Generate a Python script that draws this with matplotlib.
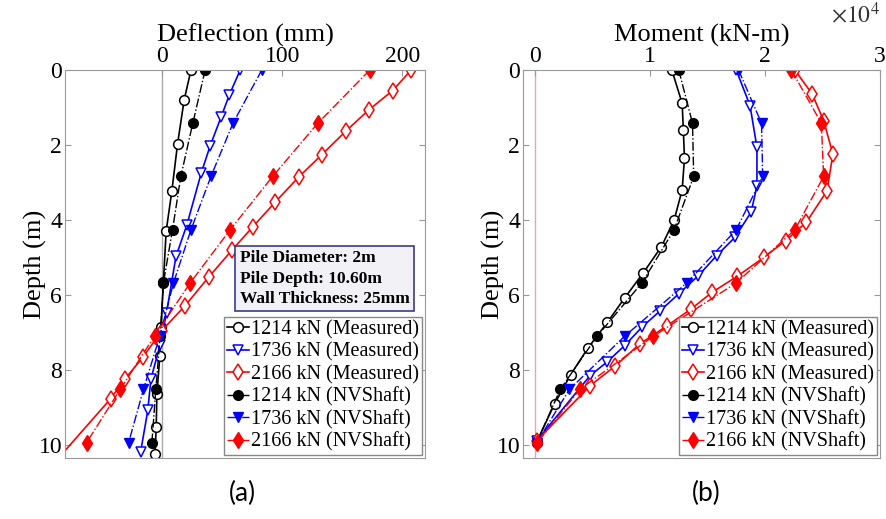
import numpy as np
import matplotlib
matplotlib.use("Agg")
import matplotlib.pyplot as plt

plt.rcParams['font.family'] = ['Liberation Serif', 'DejaVu Serif']
plt.rcParams['mathtext.fontset'] = 'stix'

# ---- data (a) deflection, mm ----
a_m1214_z = [0, 0.8, 1.97, 3.24, 4.3, 5.66, 6.85, 7.64, 8.64, 9.53, 10.24]
a_m1214_x = [24, 18.3, 12.8, 8, 3.3, 1, -1, -2, -4.4, -5, -6]
a_m1736_z = [0, 0.66, 1.26, 2.02, 2.75, 4.13, 4.97, 6.48, 7.33, 8.24, 9.08, 10.19]
a_m1736_x = [65, 56, 49, 40, 32.5, 20.6, 11.5, 3.6, -1.7, -9.4, -12, -18]
a_m2166_z = [0, 0.55, 1.07, 1.63, 2.26, 2.86, 3.53, 4.18, 4.81, 5.53, 6.29, 6.95, 7.66, 8.24, 8.77, 10.3]
a_m2166_x = [207.5, 192, 172, 153, 133, 113.6, 94, 75.6, 58, 38.6, 19, -0.3, -16, -31, -43, -85]

nv_z = [0, 1.42, 2.84, 4.26, 5.68, 7.1, 8.52, 9.94]
a_n1214_x = [35.8, 25.5, 15.5, 8.6, 1, -1.7, -5.3, -8.6]
a_n1736_x = [83, 59, 40.6, 24, 9.4, -2, -15.6, -28]
a_n2166_x = [173, 129.7, 92, 56.7, 23.3, -6.4, -35, -63]

# ---- data (b) moment, x1e4 kN-m ----
b_m1214_z = [0, 0.89, 1.6, 2.35, 3.2, 4.0, 4.71, 5.42, 6.08, 6.73, 7.42, 8.13, 8.91, 9.92]
b_m1214_x = [1.19, 1.28, 1.29, 1.30, 1.28, 1.21, 1.10, 0.94, 0.78, 0.63, 0.46, 0.31, 0.17, 0.015]
b_m1736_z = [0, 0.95, 2.06, 3.09, 3.79, 4.46, 4.95, 5.49, 5.97, 6.42, 6.86, 7.35, 7.78, 8.15, 9.89]
b_m1736_x = [1.75, 1.87, 1.93, 1.93, 1.88, 1.74, 1.58, 1.42, 1.25, 1.09, 0.93, 0.78, 0.63, 0.48, 0.015]
b_m2166_z = [0, 0.64, 1.35, 2.24, 3.22, 4.06, 4.55, 5.0, 5.5, 5.93, 6.37, 6.82, 7.31, 7.89, 8.42, 9.89]
b_m2166_x = [2.26, 2.41, 2.51, 2.59, 2.54, 2.36, 2.18, 1.99, 1.76, 1.54, 1.36, 1.15, 0.91, 0.70, 0.48, 0.015]
b_n1214_x = [1.25, 1.37, 1.38, 1.21, 0.93, 0.54, 0.22, 0.015]
b_n1736_x = [1.77, 1.97, 1.98, 1.75, 1.32, 0.78, 0.30, 0.015]
b_n2166_x = [2.23, 2.49, 2.51, 2.26, 1.75, 1.03, 0.39, 0.02]

labels = ["1214 kN (Measured)", "1736 kN (Measured)", "2166 kN (Measured)",
          "1214 kN (NVShaft)", "1736 kN (NVShaft)", "2166 kN (NVShaft)"]
colors = ["black", "blue", "red"]
markers = ["o", "v", "d"]

fig = plt.figure(figsize=(8.86, 5.19), dpi=100)
ax1 = fig.add_axes([65/886, 61/519, 360/886, 388/519])
ax2 = fig.add_axes([523/886, 61/519, 357/886, 388/519])


def draw(ax, meas, nv, zero_col):
    ax.axvline(0, color=zero_col, lw=1, zorder=0)
    for (z, x), c, m, lab in zip(meas, colors, markers, labels[:3]):
        ms = 8.5 if m == "d" else 7
        ax.plot(x, z, color=c, marker=m, mfc="white", mec=c, ms=ms, mew=1.1,
                lw=1.2, ls="-", label=lab)
    for x, c, m, lab in zip(nv, colors, markers, labels[3:]):
        ms = 8.5 if m == "d" else 7
        ax.plot(x, nv_z, color=c, marker=m, mfc=c, mec=c, ms=ms,
                lw=1.0, ls="-.", label=lab)
    ax.set_ylim(10.35, 0)
    ax.set_yticks([0, 2, 4, 6, 8, 10])
    ax.xaxis.tick_top()
    ax.xaxis.set_label_position("top")
    ax.tick_params(direction="in", labelsize=17, length=4, color="#999999",
                   right=True, pad=2)
    for s in ax.spines.values():
        s.set_color("#999999")
    ax.set_ylabel("Depth (m)", fontsize=19, labelpad=-6)
    leg = ax.legend(loc="lower right", fontsize=14.5, handlelength=1.1,
                    handletextpad=0.1, labelspacing=0.16, borderpad=0.15,
                    borderaxespad=0.15, fancybox=False, framealpha=1)
    leg.get_frame().set_edgecolor("#888888")
    leg.get_frame().set_linewidth(1.0)
    return leg


draw(ax1, [(a_m1214_z, a_m1214_x), (a_m1736_z, a_m1736_x), (a_m2166_z, a_m2166_x)],
     [a_n1214_x, a_n1736_x, a_n2166_x], "#aaaaaa")
ax1.set_xlim(-81, 219)
ax1.set_xticks([0, 100, 200])
ax1.set_xlabel("Deflection (mm)", fontsize=19, labelpad=3)
ax1.text(0.485, 0.535, "Pile Diameter: 2m\nPile Depth: 10.60m\nWall Thickness: 25mm",
         transform=ax1.transAxes, fontsize=12.5, fontweight="bold", va="top",
         linespacing=1.35,
         bbox=dict(boxstyle="square,pad=0.25", fc="#f2f2f6", ec="#3b3b8f", lw=1.2))

draw(ax2, [(b_m1214_z, b_m1214_x), (b_m1736_z, b_m1736_x), (b_m2166_z, b_m2166_x)],
     [b_n1214_x, b_n1736_x, b_n2166_x], "#e6a5b0")
ax2.set_xlim(-0.104, 3)
ax2.set_xticks([0, 1, 2, 3])
ax2.set_xlabel("Moment (kN-m)", fontsize=19, labelpad=3)
ax2.text(1.0, 1.11, r"$\times10^4$", transform=ax2.transAxes, fontsize=17,
         ha="right", va="bottom", color="#333333")

fig.text(242/886, 1 - 493/519, "(a)", fontsize=19, family="Lato", ha="center", va="center")
fig.text(706/886, 1 - 493/519, "(b)", fontsize=19, family="Lato", ha="center", va="center")

fig.savefig("out.png", dpi=100)
